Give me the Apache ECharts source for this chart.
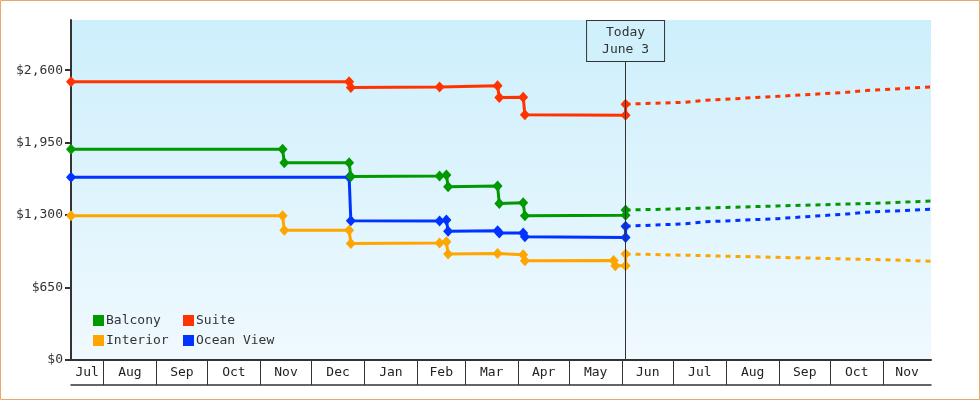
<!DOCTYPE html>
<html>
<head>
<meta charset="utf-8">
<script src="https://cdn.jsdelivr.net/npm/echarts@6/dist/echarts.min.js"></script>
<style>
  html, body { margin: 0; padding: 0; background: #fff; }
  #chart { width: 980px; height: 400px; }
</style>
</head>
<body>
<div id="chart"></div>
<script>
// time range of the chart
const startDate = '2018-07-13';
const endDate = '2019-11-29';
const todayDate = '2019-06-03';
const todayLabel = 'Today\nJune 3';

const monthNames = ['Jan', 'Feb', 'Mar', 'Apr', 'May', 'Jun', 'Jul', 'Aug', 'Sep', 'Oct', 'Nov', 'Dec'];
const yTicks = [0, 650, 1300, 1950, 2600];
const yMax = 3050;

// price history (solid) - [date, price]
const balcony = [
  ['2018-07-13', 1890], ['2018-11-14', 1890], ['2018-11-15', 1770], ['2018-12-23', 1770],
  ['2018-12-24', 1645], ['2019-02-14', 1650], ['2019-02-18', 1660], ['2019-02-19', 1555],
  ['2019-03-20', 1560], ['2019-03-21', 1405], ['2019-04-04', 1410], ['2019-04-05', 1295],
  ['2019-06-03', 1298], ['2019-06-03', 1345]
];
const suite = [
  ['2018-07-13', 2495], ['2018-12-23', 2495], ['2018-12-24', 2445], ['2019-02-14', 2450],
  ['2019-03-20', 2460], ['2019-03-21', 2355], ['2019-04-04', 2358], ['2019-04-05', 2200],
  ['2019-06-03', 2195], ['2019-06-03', 2295]
];
const interior = [
  ['2018-07-13', 1295], ['2018-11-14', 1293], ['2018-11-15', 1165], ['2018-12-23', 1165],
  ['2018-12-24', 1045], ['2019-02-14', 1050], ['2019-02-18', 1060], ['2019-02-19', 950],
  ['2019-03-20', 955], ['2019-04-04', 945], ['2019-04-05', 890], ['2019-05-27', 893],
  ['2019-05-28', 845], ['2019-06-03', 845], ['2019-06-03', 950]
];
const oceanView = [
  ['2018-07-13', 1640], ['2018-12-23', 1640], ['2018-12-24', 1250], ['2019-02-14', 1248],
  ['2019-02-18', 1255], ['2019-02-19', 1155], ['2019-03-20', 1160], ['2019-03-21', 1140],
  ['2019-04-04', 1140], ['2019-04-05', 1105], ['2019-06-03', 1100], ['2019-06-03', 1200]
];

// forecast (dashed)
const balconyForecast = [
  ['2019-06-03', 1345], ['2019-07-02', 1355], ['2019-07-03', 1362], ['2019-08-31', 1382],
  ['2019-09-01', 1390], ['2019-10-28', 1406], ['2019-10-29', 1417], ['2019-11-29', 1426]
];
const suiteForecast = [
  ['2019-06-03', 2295], ['2019-07-08', 2312], ['2019-07-09', 2322], ['2019-07-20', 2330],
  ['2019-07-21', 2338], ['2019-08-31', 2365], ['2019-09-01', 2375], ['2019-10-11', 2402],
  ['2019-10-12', 2412], ['2019-10-22', 2417], ['2019-10-23', 2425], ['2019-11-29', 2450]
];
const interiorForecast = [
  ['2019-06-03', 950], ['2019-06-14', 948], ['2019-06-15', 936], ['2019-08-31', 921],
  ['2019-09-01', 911], ['2019-11-15', 894], ['2019-11-16', 886], ['2019-11-29', 885]
];
const oceanViewForecast = [
  ['2019-06-03', 1200], ['2019-07-08', 1222], ['2019-07-09', 1232], ['2019-07-20', 1240],
  ['2019-07-21', 1248], ['2019-08-31', 1268], ['2019-09-01', 1278], ['2019-10-11', 1310],
  ['2019-10-12', 1320], ['2019-10-22', 1326], ['2019-10-23', 1334], ['2019-11-29', 1352]
];

const colors = { Balcony: '#009900', Suite: '#ff3300', Interior: '#ffa500', 'Ocean View': '#0033ff' };
const font = 'DejaVu Sans Mono';

const t = s => Date.parse(s);
const toPts = arr => arr.map(p => [t(p[0]), p[1]]);
const minT = t(startDate), maxT = t(endDate);

// month boundaries and label positions (middle of each visible month)
const monthStarts = [];
let d0 = new Date(minT);
let m = Date.UTC(d0.getUTCFullYear(), d0.getUTCMonth() + 1, 1);
while (m < maxT) {
  monthStarts.push(m);
  const d = new Date(m);
  m = Date.UTC(d.getUTCFullYear(), d.getUTCMonth() + 1, 1);
}
const bounds = [minT].concat(monthStarts, [maxT]);
const monthMids = bounds.slice(0, -1).map((b, i) => (b + bounds[i + 1]) / 2);

function money(v) {
  return '$' + String(v).replace(/\B(?=(\d{3})+(?!\d))/g, ',');
}

function history(name, data) {
  return {
    name: name,
    type: 'line',
    data: toPts(data),
    symbol: 'diamond',
    symbolSize: [10, 11],
    showSymbol: true,
    color: colors[name],
    lineStyle: { width: 3, color: colors[name] },
    itemStyle: { color: colors[name] },
    z: 3
  };
}
function forecast(name, data) {
  return {
    name: name + ' forecast',
    type: 'line',
    data: toPts(data),
    showSymbol: false,
    color: colors[name],
    lineStyle: { width: 3, type: [5, 5], color: colors[name] },
    z: 2
  };
}

let myChart = echarts.init(document.getElementById('chart'));
const legendBase = {
  orient: 'vertical',
  top: 314,
  padding: 0,
  itemWidth: 11,
  itemHeight: 11,
  itemGap: 7,
  icon: 'rect',
  selectedMode: false,
  textStyle: { fontFamily: font, fontSize: 13, color: '#333', lineHeight: 13, padding: [0, 0, 0, -3] }
};

const series = [
  forecast('Ocean View', oceanViewForecast),
  forecast('Interior', interiorForecast),
  forecast('Suite', suiteForecast),
  forecast('Balcony', balconyForecast),
  history('Ocean View', oceanView),
  history('Interior', interior),
  history('Suite', suite),
  history('Balcony', balcony)
];
// today marker
series[0].markLine = {
  silent: true,
  symbol: 'none',
  animation: false,
  lineStyle: { color: '#333', width: 1, type: 'solid' },
  label: {
    show: true,
    position: 'end',
    distance: -41,
    formatter: todayLabel,
    fontFamily: font,
    fontSize: 13,
    lineHeight: 17,
    color: '#333',
    align: 'center',
    backgroundColor: '#d0f0fc',
    borderColor: '#333',
    borderWidth: 1,
    padding: [3, 15]
  },
  data: [{ xAxis: t(todayDate) }]
};

myChart.setOption({
  animation: false,
  graphic: [{
    type: 'rect',
    shape: { x: 0.5, y: 0.5, width: 979, height: 399 },
    style: { fill: null, stroke: '#e9a867', lineWidth: 1 },
    silent: true
  }],
  grid: {
    left: 71, right: 49, top: 20, bottom: 40,
    show: true,
    borderWidth: 0,
    backgroundColor: {
      type: 'linear', x: 0, y: 0, x2: 0, y2: 1,
      colorStops: [{ offset: 0, color: '#cdeffc' }, { offset: 1, color: '#f0f9fe' }]
    }
  },
  legend: [
    Object.assign({}, legendBase, { left: 93, data: ['Balcony', 'Interior'] }),
    Object.assign({}, legendBase, { left: 183, data: ['Suite', 'Ocean View'] })
  ],
  xAxis: [{
    type: 'value',
    min: minT,
    max: maxT,
    axisLine: { show: true, lineStyle: { color: '#333', width: 2 } },
    axisTick: { show: true, customValues: monthStarts, length: 25, lineStyle: { color: '#333', width: 1 } },
    axisLabel: {
      customValues: monthMids,
      formatter: v => monthNames[new Date(v).getUTCMonth()],
      fontFamily: font, fontSize: 13, color: '#222', margin: 6
    },
    splitLine: { show: false }
  }, {
    type: 'value',
    min: minT,
    max: maxT,
    position: 'bottom',
    offset: 25,
    axisLine: { show: true, lineStyle: { color: '#333', width: 1.5 } },
    axisTick: { show: false },
    axisLabel: { show: false },
    splitLine: { show: false }
  }],
  yAxis: {
    type: 'value',
    min: 0,
    max: yMax,
    axisLine: { show: true, lineStyle: { color: '#333', width: 2 } },
    axisTick: { show: true, customValues: yTicks, length: 6, lineStyle: { color: '#333', width: 2 } },
    axisLabel: {
      customValues: yTicks,
      formatter: money,
      fontFamily: font, fontSize: 13, color: '#333', margin: 8
    },
    splitLine: { show: false }
  },
  series: series
});
</script>
</body>
</html>
